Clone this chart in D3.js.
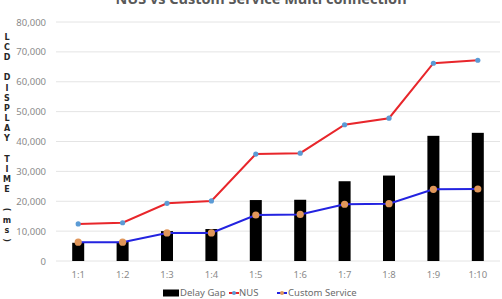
<!DOCTYPE html>
<html>
<head>
<meta charset="utf-8">
<script src="https://cdn.jsdelivr.net/npm/d3@7"></script>
<style>
  body { margin: 0; background: #fff; }
  svg { display: block; font-family: "Noto Sans", "Open Sans", sans-serif; }
</style>
</head>
<body>
<div id="chart"></div>
<script>
// DATA
const categories = ["1:1", "1:2", "1:3", "1:4", "1:5", "1:6", "1:7", "1:8", "1:9", "1:10"];
const delayGap = [6100, 6400, 10000, 10700, 20400, 20500, 26700, 28600, 41900, 42900];
const nusTime = [12400, 12800, 19300, 20100, 35800, 36100, 45600, 47800, 66200, 67200];
const customTime = [6300, 6300, 9400, 9400, 15400, 15600, 19000, 19200, 24000, 24100];
const yTicks = [0, 10000, 20000, 30000, 40000, 50000, 60000, 70000, 80000];
const yLabel = "LCD DISPLAY TIME (ms)";
const title = "NUS vs Custom Service Multi connection";

// SIZE
const width = 502;
const height = 299;
const margin = { top: 22, right: 2, bottom: 38, left: 56 };

const svg = d3.select("#chart")
  .append("svg")
  .attr("width", width)
  .attr("height", height);

// SCALES
const xScale = d3.scaleBand()
  .domain(categories)
  .range([margin.left, width - margin.right])
  .padding(0);

const yScale = d3.scaleLinear()
  .domain([0, 80000])
  .range([height - margin.bottom, margin.top]);

const cx = d => xScale(d) + xScale.bandwidth() / 2;

// GRID
svg.append("g")
  .selectAll("line")
  .data(yTicks)
  .join("line")
  .attr("x1", margin.left)
  .attr("x2", width - margin.right)
  .attr("y1", d => yScale(d))
  .attr("y2", d => yScale(d))
  .attr("stroke", "#e4e4e4")
  .attr("stroke-width", 1);

// Y AXIS (labels only)
const yAxis = d3.axisLeft(yScale)
  .tickValues(yTicks)
  .tickFormat(d3.format(","))
  .tickSize(0)
  .tickPadding(10);

svg.append("g")
  .attr("transform", `translate(${margin.left},0)`)
  .call(yAxis)
  .call(g => g.select(".domain").remove())
  .selectAll("text")
  .attr("fill", "#8a8a8a")
  .style("font-size", "9.5px")
  .style("font-family", "'Noto Sans', sans-serif");

// X AXIS (labels only)
const xAxis = d3.axisBottom(xScale).tickSize(0).tickPadding(10);

svg.append("g")
  .attr("transform", `translate(0,${height - margin.bottom})`)
  .call(xAxis)
  .call(g => g.select(".domain").remove())
  .selectAll("text")
  .attr("fill", "#8a8a8a")
  .style("font-size", "9.5px")
  .style("font-family", "'Noto Sans', sans-serif");

// BARS
const barWidth = 12;
svg.append("g")
  .selectAll("rect")
  .data(categories)
  .join("rect")
  .attr("x", d => cx(d) - barWidth / 2)
  .attr("y", (d, i) => yScale(delayGap[i]))
  .attr("width", barWidth)
  .attr("height", (d, i) => yScale(0) - yScale(delayGap[i]))
  .attr("fill", "#000");

// LINES
const line = d3.line()
  .x(d => cx(d.cat))
  .y(d => yScale(d.value));

const series = [
  { name: "NUS", values: nusTime, stroke: "#e8262b", marker: "#5b9bd5", r: 2.6 },
  { name: "Custom Service", values: customTime, stroke: "#2323e0", marker: "#e0965a", r: 3.6 }
];

series.forEach(s => {
  const pts = categories.map((c, i) => ({ cat: c, value: s.values[i] }));
  svg.append("path")
    .datum(pts)
    .attr("d", line)
    .attr("fill", "none")
    .attr("stroke", s.stroke)
    .attr("stroke-width", 2);
  svg.append("g")
    .selectAll("circle")
    .data(pts)
    .join("circle")
    .attr("cx", d => cx(d.cat))
    .attr("cy", d => yScale(d.value))
    .attr("r", s.r)
    .attr("fill", s.marker);
});

// TITLE (clipped at the top like the reference)
svg.append("text")
  .attr("x", 261)
  .attr("y", 4)
  .attr("text-anchor", "middle")
  .attr("fill", "#595959")
  .style("font-size", "14.5px")
  .style("font-weight", "bold")
  .text(title);

// Y LABEL, stacked letters
const labelG = svg.append("g");
yLabel.split("").forEach((ch, i) => {
  const y = 37 + i * 10.15;
  const t = labelG.append("text")
    .attr("x", 7)
    .attr("y", y)
    .attr("dy", "0.35em")
    .attr("text-anchor", "middle")
    .attr("fill", "#262626")
    .style("font-size", "8px")
    .style("font-weight", "bold")
    .style("font-family", "'DejaVu Sans', sans-serif")
    .text(ch);
  if (ch === "(" || ch === ")") t.attr("transform", `rotate(90,7,${y})`);
});

// LEGEND
const legendY = 293;
const legend = svg.append("g").style("font-size", "9.5px").attr("fill", "#6b6b6b");

legend.append("rect")
  .attr("x", 163).attr("y", legendY - 3.5)
  .attr("width", 16).attr("height", 7)
  .attr("fill", "#000");
legend.append("text").attr("x", 180).attr("y", legendY).attr("dy", "0.35em").text("Delay Gap");

const legendItems = [
  { s: series[0], x: 229, tx: 239 },
  { s: series[1], x: 277, tx: 288 }
];
legendItems.forEach(item => {
  legend.append("line")
    .attr("x1", item.x).attr("x2", item.x + 10)
    .attr("y1", legendY).attr("y2", legendY)
    .attr("stroke", item.s.stroke).attr("stroke-width", 2);
  legend.append("circle")
    .attr("cx", item.x + 5).attr("cy", legendY)
    .attr("r", 2)
    .attr("fill", item.s.marker);
  legend.append("text")
    .attr("x", item.tx).attr("y", legendY).attr("dy", "0.35em")
    .text(item.s.name);
});
</script>
</body>
</html>
